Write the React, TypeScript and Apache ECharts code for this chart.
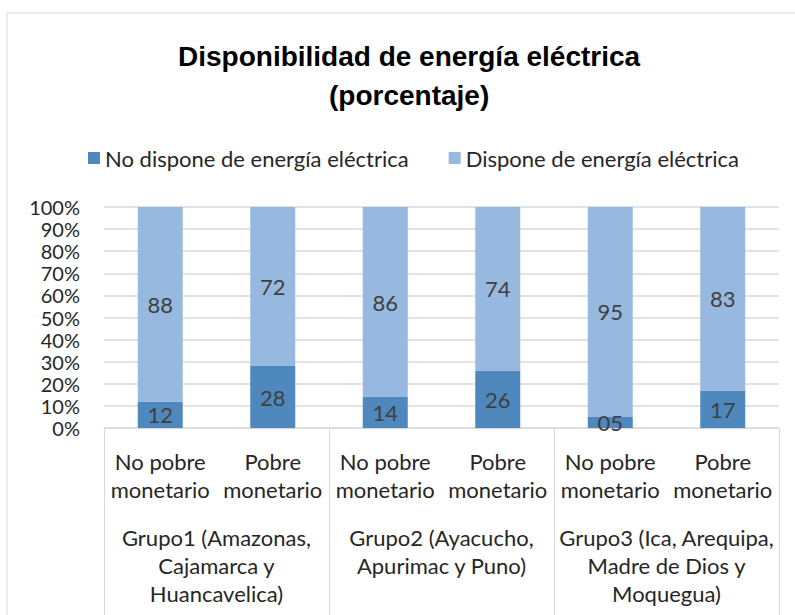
import React, { useEffect, useRef } from "react";
import * as echarts from "echarts";

const subCategories = [
  "No pobre\nmonetario",
  "Pobre\nmonetario",
  "No pobre\nmonetario",
  "Pobre\nmonetario",
  "No pobre\nmonetario",
  "Pobre\nmonetario",
];
const groups = [
  "Grupo1 (Amazonas,\nCajamarca y\nHuancavelica)",
  "Grupo2 (Ayacucho,\nApurimac y Puno)",
  "Grupo3 (Ica, Arequipa,\nMadre de Dios y\nMoquegua)",
];
const noDispone = [12, 28, 14, 26, 5, 17];
const dispone = [88, 72, 86, 74, 95, 83];
const seriesNames = ["No dispone de energía eléctrica", "Dispone de energía eléctrica"];
const titleLines = ["Disponibilidad de energía eléctrica", "(porcentaje)"];
const yTicks = { min: 0, max: 100, interval: 10 };

const FONT = "Lato";

export default function App() {
  const ref = useRef<HTMLDivElement>(null);
  useEffect(() => {
    if (!ref.current) return;
    const chart = echarts.init(ref.current, null, { renderer: "svg" });
    const pad = (p: any) => String(p.value).padStart(2, "0");
    const titleStyle = {
      fontFamily: "Liberation Sans",
      fontWeight: "bold",
      fontSize: 28,
      lineHeight: 39,
      color: "#000000",
    };
    chart.setOption({
      animation: false,
      backgroundColor: "#ffffff",
      title: [
        { text: titleLines[0], left: 173, top: 32, textStyle: titleStyle },
        { text: titleLines[1], left: 324, top: 71, textStyle: titleStyle },
      ],
      legend: {
        top: 142,
        left: 83,
        icon: "rect",
        itemWidth: 12,
        itemHeight: 12,
        itemGap: 40,
        textStyle: { fontFamily: FONT, fontSize: 22, color: "#262626" },
        data: seriesNames,
      },
      graphic: [
        {
          type: "rect",
          shape: { x: 7, y: 13, width: 820, height: 640 },
          style: { fill: "none", stroke: "#d9d9d9", lineWidth: 1 },
          silent: true,
        },
      ],
      grid: { left: 104, right: 16, top: 207, bottom: 187 },
      xAxis: [
        {
          type: "category",
          data: subCategories,
          position: "bottom",
          axisLine: { show: true, lineStyle: { color: "#d9d9d9", width: 1 } },
          axisTick: { show: false },
          axisLabel: {
            margin: 19,
            fontFamily: FONT,
            fontSize: 22,
            lineHeight: 28,
            color: "#262626",
            interval: 0,
          },
        },
        {
          type: "category",
          data: groups,
          position: "bottom",
          offset: 0,
          axisLine: { show: false },
          axisTick: { show: true, length: 200, lineStyle: { color: "#d9d9d9", width: 1 } },
          axisLabel: {
            margin: 95,
            fontFamily: FONT,
            fontSize: 22,
            lineHeight: 28,
            color: "#262626",
            interval: 0,
          },
          splitLine: { show: false },
        },
      ],
      yAxis: {
        type: "value",
        min: yTicks.min,
        max: yTicks.max,
        interval: yTicks.interval,
        axisLine: { show: false },
        axisTick: { show: false },
        axisLabel: {
          formatter: "{value}%",
          fontFamily: FONT,
          fontSize: 20,
          color: "#262626",
          margin: 24,
        },
        splitLine: { lineStyle: { color: "#d9d9d9", width: 1.5 } },
      },
      series: [
        {
          name: seriesNames[0],
          type: "bar",
          stack: "total",
          xAxisIndex: 0,
          barWidth: 45,
          data: noDispone,
          itemStyle: { color: "#4f88bd" },
          label: {
            show: true,
            position: "inside",
            formatter: pad,
            fontFamily: FONT,
            fontSize: 22,
            color: "#404040",
          },
        },
        {
          name: seriesNames[1],
          type: "bar",
          stack: "total",
          xAxisIndex: 0,
          barWidth: 45,
          data: dispone,
          itemStyle: { color: "#97b8df" },
          label: {
            show: true,
            position: "inside",
            formatter: pad,
            fontFamily: FONT,
            fontSize: 22,
            color: "#404040",
          },
        },
      ],
    });
    return () => chart.dispose();
  }, []);
  return (
    <div
      ref={ref}
      style={{ position: "fixed", left: 0, top: 0, width: 795, height: 615 }}
    />
  );
}
